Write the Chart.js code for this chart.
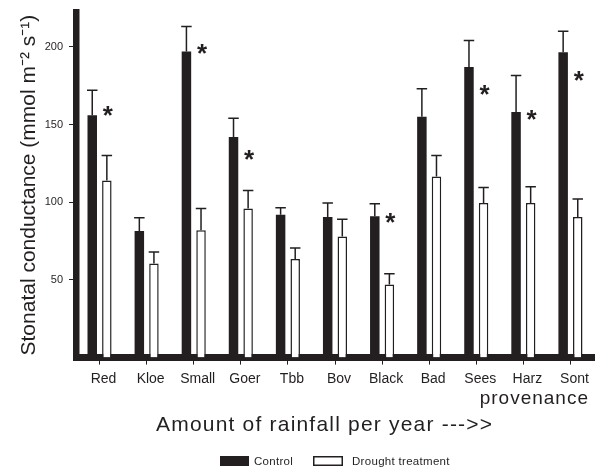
<!DOCTYPE html>
<html>
<head>
    <title>Stomatal conductance by provenance</title>
    <script src="https://cdn.jsdelivr.net/npm/chart.js"></script>
    <style>
        body {
            margin: 0;
            background-color: #fff;
            overflow: hidden;
        }
        canvas {
            display: block;
        }
    </style>
</head>
<body>
<canvas id="chart" width="596" height="468"></canvas>

<script>
    // Provenances, ordered by rainfall per year
    const provenances = ["Red", "Kloe", "Small", "Goer", "Tbb", "Bov", "Black", "Bad", "Sees", "Harz", "Sont"];

    // Mean stomatal conductance (mmol m-2 s-1)
    const controlValues = [156, 81.5, 197, 142, 92, 90.5, 91, 155, 187, 158, 196.5];
    const droughtValues = [114, 60.5, 82, 96, 63.5, 78, 47, 116.5, 99.5, 99.5, 90.5];

    // Standard errors (drawn upwards only)
    const controlErrors = [16, 8.5, 16, 12, 4.5, 9, 8, 18, 17, 23.5, 13.5];
    const droughtErrors = [16, 7.5, 14, 11.5, 7, 11, 7, 13.5, 10, 10.5, 11.5];

    // Significance stars: level (in axis units) where the star sits, null = not significant
    const starLevels = [157, null, 196.5, 128.5, null, null, 88, null, 170.5, 154, 179];

    const yTicks = [50, 100, 150, 200];
    const yMax = 222;

    const ink = "#231f20";
    const fontFamily = "'Liberation Sans', Arial, Helvetica, sans-serif";

    // Upward error bars and significance stars
    const errorBarsPlugin = {
        id: "errorBars",
        afterDatasetsDraw(chart) {
            const ctx = chart.ctx;
            const yScale = chart.scales.y;
            const errors = [controlErrors, droughtErrors];
            ctx.save();
            ctx.strokeStyle = ink;
            ctx.lineWidth = 1.5;
            chart.data.datasets.forEach((ds, i) => {
                chart.getDatasetMeta(i).data.forEach((bar, j) => {
                    const top = yScale.getPixelForValue(ds.data[j] + errors[i][j]);
                    const half = bar.width / 2 + 0.5;
                    ctx.beginPath();
                    ctx.moveTo(bar.x, bar.y);
                    ctx.lineTo(bar.x, top);
                    ctx.moveTo(bar.x - half, top);
                    ctx.lineTo(bar.x + half, top);
                    ctx.stroke();
                });
            });

            // stars sit above the drought bar
            ctx.fillStyle = ink;
            ctx.font = "bold 26px " + fontFamily;
            ctx.textAlign = "center";
            ctx.textBaseline = "alphabetic";
            const droughtBars = chart.getDatasetMeta(1).data;
            starLevels.forEach((level, j) => {
                if (level === null) return;
                const y = yScale.getPixelForValue(level);
                ctx.fillText("*", droughtBars[j].x + 1, y + 10);
            });
            ctx.restore();
        }
    };

    // Axis captions and legend below the plot
    const captionsPlugin = {
        id: "captions",
        afterDraw(chart) {
            const ctx = chart.ctx;
            ctx.save();
            ctx.fillStyle = ink;
            ctx.textBaseline = "alphabetic";

            ctx.font = "19px " + fontFamily;
            ctx.letterSpacing = "1px";
            ctx.textAlign = "right";
            ctx.fillText("provenance", 589, 404);

            ctx.font = "21px " + fontFamily;
            ctx.letterSpacing = "1.2px";
            ctx.textAlign = "left";
            ctx.fillText("Amount of rainfall per year --->>", 156, 431);

            // legend
            ctx.letterSpacing = "0.3px";
            ctx.font = "11.5px " + fontFamily;
            ctx.fillRect(220, 456, 29, 10);
            ctx.fillText("Control", 254, 465);
            ctx.fillStyle = "#fff";
            ctx.fillRect(313.75, 456.75, 28.5, 8.5);
            ctx.strokeStyle = ink;
            ctx.lineWidth = 1.5;
            ctx.strokeRect(313.75, 456.75, 28.5, 8.5);
            ctx.fillStyle = ink;
            ctx.fillText("Drought treatment", 352, 465);
            ctx.restore();
        }
    };

    new Chart(document.getElementById("chart"), {
        type: "bar",
        data: {
            labels: provenances,
            datasets: [{
                label: "Control",
                data: controlValues,
                backgroundColor: ink,
                borderWidth: 0,
                categoryPercentage: 0.62,
                barPercentage: 0.65
            }, {
                label: "Drought treatment",
                data: droughtValues,
                backgroundColor: "#ffffff",
                borderColor: ink,
                borderWidth: 1.5,
                categoryPercentage: 0.62,
                barPercentage: 0.65
            }]
        },
        options: {
            responsive: false,
            animation: false,
            layout: {
                padding: { top: 10, right: 2, left: 0, bottom: 0 }
            },
            plugins: {
                legend: { display: false },
                tooltip: { enabled: false }
            },
            scales: {
                x: {
                    offset: true,
                    z: 1,
                    grid: {
                        offset: false,
                        drawOnChartArea: false,
                        drawTicks: true,
                        tickLength: 7,
                        tickWidth: 1,
                        tickColor: ink
                    },
                    border: { display: true, width: 7, color: ink },
                    ticks: {
                        color: ink,
                        font: { family: fontFamily, size: 14 },
                        padding: 6,
                        labelOffset: 4,
                        maxRotation: 0,
                        autoSkip: false
                    },
                    afterFit: (scale) => { scale.height = 110.4; }
                },
                y: {
                    min: 0,
                    max: yMax,
                    z: 1,
                    afterBuildTicks: (scale) => {
                        scale.ticks = yTicks.map(v => ({ value: v }));
                    },
                    grid: {
                        drawOnChartArea: false,
                        drawTicks: true,
                        tickLength: 7,
                        tickWidth: 1,
                        tickColor: ink
                    },
                    border: { display: true, width: 6.5, color: ink },
                    ticks: {
                        color: ink,
                        font: { family: fontFamily, size: 11 },
                        padding: 6
                    },
                    title: {
                        display: true,
                        text: "Stonatal conductance (mmol m\u207B\u00B2 s\u207B\u00B9)",
                        color: ink,
                        font: { family: fontFamily, size: 21 },
                        padding: { top: 17, bottom: 0 }
                    },
                    afterFit: (scale) => { scale.width = 76; }
                }
            }
        },
        plugins: [errorBarsPlugin, captionsPlugin]
    });
</script>
</body>
</html>
